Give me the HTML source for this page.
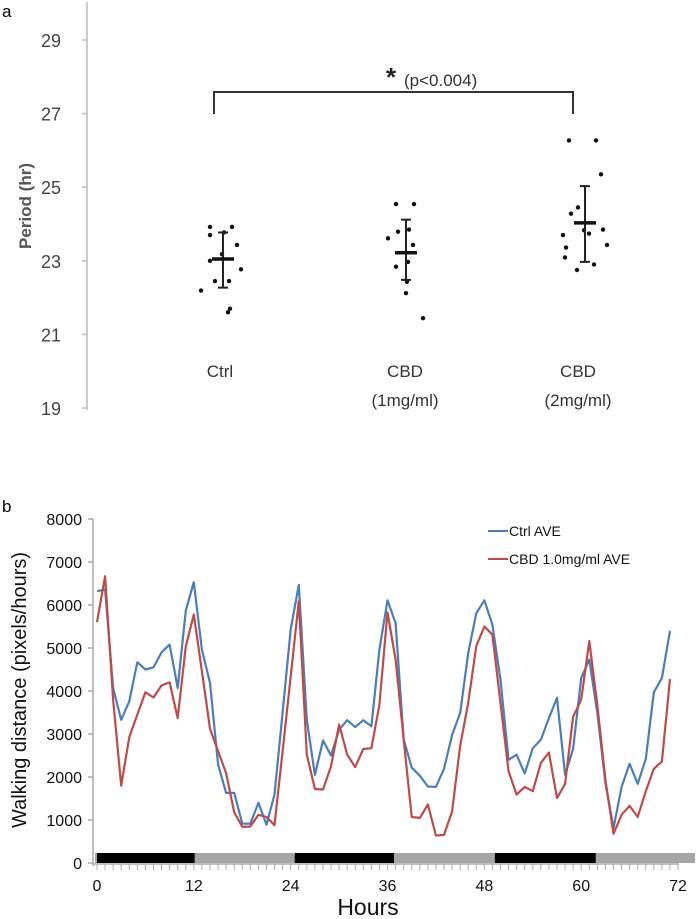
<!DOCTYPE html>
<html><head><meta charset="utf-8"><style>
body{margin:0;background:#fff;width:696px;height:919px;overflow:hidden}
svg{display:block}
text{font-family:"Liberation Sans",sans-serif}
</style></head><body>
<svg width="696" height="919" viewBox="0 0 696 919">
<text x="2" y="17" font-family="Liberation Serif" font-size="17" fill="#000">a</text>
<g id="pa"></g>
<text x="2" y="512" font-family="Liberation Serif" font-size="17" fill="#000">b</text>
<g id="pb"></g>
</svg>
<script>
// Panel a data
const groupsA = ["Ctrl", "CBD (1mg/ml)", "CBD (2mg/ml)"];
const ticksA = [19, 21, 23, 25, 27, 29];
const ctrlPts = [23.92,23.92,23.70,23.77,23.43,23.0,23.18,22.77,22.19,22.45,22.45,21.6,21.7];
const cbd1Pts = [24.54,24.54,23.61,23.79,23.85,23.43,22.84,22.97,22.43,22.12,21.44];
const cbd2Pts = [26.27,26.27,25.35,24.28,24.45,23.70,23.83,23.74,23.85,23.43,23.36,23.09,22.75,22.90];
const meansA = [23.05, 23.22, 24.03];
const errLoA = [22.27, 22.48, 22.97];
const errHiA = [23.77, 24.12, 25.03];
const jitterA = [[-13,9,-13,1,14,-13,-1,18,-22,-8,6,5,7],[-10,8,-18,-8,3,7,-10,2,1,0,17],[-16,11,16,-14,-7,-22,-1,4,18,22,-19,-20,-8,9]];
// Panel b data
const hoursTicks = [0,12,24,36,48,60,72];
const yTicksB = [0,1000,2000,3000,4000,5000,6000,7000,8000];
const ctrlAve = [6320,6360,4070,3330,3760,4670,4500,4550,4900,5080,4070,5870,6530,4960,4190,2290,1630,1630,915,915,1400,890,1590,3500,5430,6470,3330,2050,2850,2500,3100,3320,3160,3320,3180,4960,6110,5580,2870,2220,2030,1780,1770,2190,2980,3490,4880,5810,6110,5540,4260,2400,2520,2080,2670,2870,3370,3840,2050,2650,4300,4730,3490,1860,810,1770,2310,1840,2420,3970,4300,5400];
const cbdAve = [5600,6670,3800,1800,2930,3450,3970,3850,4130,4200,3370,5040,5780,4460,3120,2600,2090,1180,840,850,1120,1070,880,2600,4340,6090,2520,1720,1710,2250,3220,2520,2230,2650,2670,3680,5830,4730,2870,1070,1050,1360,640,650,1200,2730,3720,5050,5500,5310,3720,2130,1590,1770,1670,2330,2570,1510,1840,3400,3800,5160,3680,1940,680,1120,1330,1070,1670,2190,2360,4280];
const darkPeriods = [[0,12.1],[24.5,36.8],[49.3,61.8]];

const NS="http://www.w3.org/2000/svg";
function mk(p,t,a){const e=document.createElementNS(NS,t);for(const k in a)e.setAttribute(k,a[k]);p.appendChild(e);return e;}

// ----- Panel A -----
const pa=document.getElementById('pa');
const yA=v=>40+(29-v)*36.8;
const xA=i=>[223,406,585][i];
let ax=mk(pa,'line',{x1:87,y1:2,x2:87,y2:410,stroke:'#bbb','stroke-width':1.5});


ticksA.forEach(t=>{
 let l=mk(pa,'line',{x1:82,x2:87,y1:yA(t),y2:yA(t),stroke:'#bbb','stroke-width':1.5});
 
 
 let tx=mk(pa,'text',{x:61,y:yA(t)+7,'font-size':18,fill:'#444','text-anchor':'end'});tx.textContent=t;
 
 
});
let yt=mk(pa,'text',{x:0,y:0,'font-size':17,'font-weight':'bold',fill:'#555','text-anchor':'middle',transform:'translate(31,206) rotate(-90)'});yt.textContent='Period (hr)';


const labA=[["Ctrl"],["CBD","(1mg/ml)"],["CBD","(2mg/ml)"]];
const labX=[220,405,578];
labA.forEach((ls,i)=>ls.forEach((s,j)=>{let t=mk(pa,'text',{x:labX[i],y:377+j*29,'font-size':17,fill:'#333','text-anchor':'middle'});t.textContent=s;
 
 }));
[ctrlPts,cbd1Pts,cbd2Pts].forEach((pts,g)=>{
 pts.forEach((v,k)=>{let c=mk(pa,'circle',{cx:xA(g)+(jitterA[g][k]||0),cy:yA(v),r:2.2,fill:'#111'});
  
  });
 const x=xA(g);
 let e=mk(pa,'path',{d:`M${x} ${yA(errHiA[g])}V${yA(errLoA[g])}M${x-5} ${yA(errHiA[g])}H${x+5}M${x-5} ${yA(errLoA[g])}H${x+5}`,stroke:'#222','stroke-width':2,fill:'none'});
 
 
 let m=mk(pa,'line',{x1:x-11,x2:x+11,y1:yA(meansA[g]),y2:yA(meansA[g]),stroke:'#111','stroke-width':3.5});
 
 
});
let br=mk(pa,'path',{d:'M214 114V92H573V114',stroke:'#333','stroke-width':2,fill:'none'});


let st=mk(pa,'text',{x:391,y:86,'font-size':26,'font-weight':'bold',fill:'#222','text-anchor':'middle'});st.textContent='*';


let pv=mk(pa,'text',{x:404,y:86,'font-size':17,fill:'#333'});pv.textContent='(p<0.004)';



// ----- Panel B -----
const pb=document.getElementById('pb');
const xB=h=>97+h*8.07;
const yB=v=>863-v*0.043;
let bx=mk(pb,'line',{x1:93,y1:519,x2:93,y2:866,stroke:'#aaa','stroke-width':1.5});


let xl=mk(pb,'line',{x1:93,y1:864,x2:679,y2:864,stroke:'#aaa','stroke-width':1.5});


for(let h=0;h<=72;h++){let l=mk(pb,'line',{x1:xB(h),x2:xB(h),y1:864,y2:870,stroke:'#aaa','stroke-width':1});
 
 }
yTicksB.forEach(t=>{
 let l=mk(pb,'line',{x1:88,x2:93,y1:yB(t),y2:yB(t),stroke:'#aaa','stroke-width':1.5});
 
 
 let tx=mk(pb,'text',{x:82,y:yB(t)+6,'font-size':16,fill:'#111','text-anchor':'end'});tx.textContent=t;
 
 
});
hoursTicks.forEach(t=>{let tx=mk(pb,'text',{x:xB(t),y:891,'font-size':16,fill:'#111','text-anchor':'middle'});tx.textContent=t;
 
 });
let gb=mk(pb,'rect',{x:95,y:853,width:600,height:10,fill:'#a6a6a6'});


darkPeriods.forEach(d=>{let r=mk(pb,'rect',{x:Math.max(95,xB(d[0])),y:853,width:xB(d[1])-Math.max(95,xB(d[0])),height:10,fill:'#000'});
 
 });
function line(arr,col,name){let d=arr.map((v,i)=>(i?'L':'M')+xB(i).toFixed(1)+' '+yB(v).toFixed(1)).join('');
 let p=mk(pb,'path',{d:d,stroke:col,'stroke-width':2.2,fill:'none','stroke-linejoin':'round'});
 
 }
line(ctrlAve,'#4a7ebb','ctrl-ave-line');
line(cbdAve,'#be4b48','cbd-ave-line');
let t1=mk(pb,'text',{x:0,y:0,'font-size':20,fill:'#111','text-anchor':'middle',transform:'translate(26,690) rotate(-90)'});t1.textContent='Walking distance (pixels/hours)';


let t2=mk(pb,'text',{x:368,y:915,'font-size':23,fill:'#111','text-anchor':'middle'});t2.textContent='Hours';


[['Ctrl AVE','#4a7ebb',531],['CBD 1.0mg/ml AVE','#be4b48',559]].forEach(([s,c,y])=>{
 let l=mk(pb,'line',{x1:488,x2:508,y1:y,y2:y,stroke:c,'stroke-width':2});
 
 
 let t=mk(pb,'text',{x:509,y:y+5,'font-size':14,fill:'#111'});t.textContent=s;
 
 
});
</script>
</body></html>
